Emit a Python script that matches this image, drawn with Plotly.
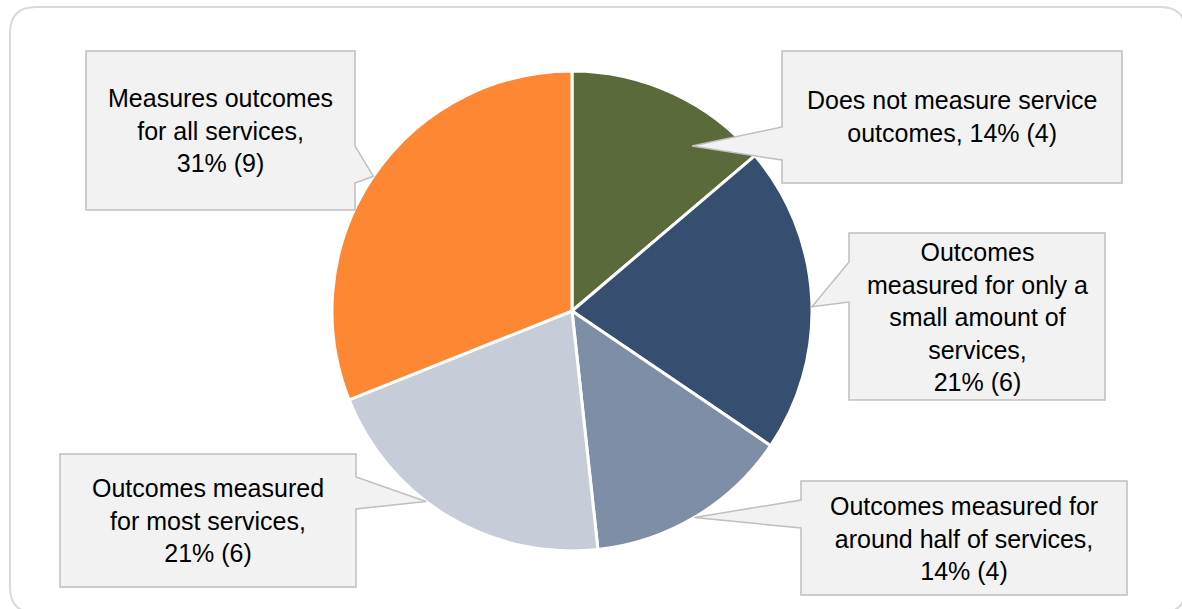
import math
import plotly.graph_objects as go

# ---- data -------------------------------------------------------------
categories = [
    "Does not measure service<br>outcomes",
    "Outcomes<br>measured for only a<br>small amount of<br>services",
    "Outcomes measured for<br>around half of services",
    "Outcomes measured<br>for most services",
    "Measures outcomes<br>for all services",
]
counts = [4, 6, 4, 6, 9]
slice_colors = ["#5B6A3A", "#364E6F", "#7E8EA6", "#C6CDD9", "#FE8734"]

# ---- page geometry (pixels) -------------------------------------------
W, H = 1182, 609
CX, CY, R = 572, 311, 240


def fx(x):
    return x / W


def fy(y):
    return 1 - y / H


# callout boxes: (x0, y0, x1, y1), side of the pointer, pointer base (y0, y1),
# pointer angle nudge (deg), pointer reach as a fraction of the radius,
# and the separator placed before the percentage
callouts = [
    dict(box=(782, 51, 1122, 183), side="left", base=(127, 160), nudge=11.2, reach=0.85, sep=", "),
    dict(box=(849, 233, 1105, 400), side="left", base=(262, 302), nudge=2.1, reach=1.0, sep=",<br>"),
    dict(box=(801, 481, 1127, 595), side="left", base=(500, 528), nudge=0.4, reach=1.0, sep=",<br>"),
    dict(box=(60, 454, 356, 587), side="right", base=(477, 509), nudge=6.4, reach=1.0, sep=",<br>"),
    dict(box=(86, 51, 355, 210), side="right", base=(146, 183), nudge=0.0, reach=1.0, sep=",<br>"),
]

total = sum(counts)

fig = go.Figure(
    go.Pie(
        labels=[c.replace("<br>", " ") for c in categories],
        values=counts,
        sort=False,
        direction="clockwise",
        rotation=0,
        marker=dict(colors=slice_colors, line=dict(color="white", width=3)),
        textinfo="none",
        hoverinfo="label+value+percent",
        showlegend=False,
        domain=dict(x=[fx(CX - R), fx(CX + R)], y=[fy(CY + R), fy(CY - R)]),
    )
)

shapes = []
annotations = []

# outer frame with rounded corners
fx0, fy0, fx1, fy1, rc = 10, 7, 1186, 613, 26
frame = (
    f"M {fx(fx0 + rc)},{fy(fy0)} L {fx(fx1 - rc)},{fy(fy0)} "
    f"Q {fx(fx1)},{fy(fy0)} {fx(fx1)},{fy(fy0 + rc)} "
    f"L {fx(fx1)},{fy(fy1 - rc)} Q {fx(fx1)},{fy(fy1)} {fx(fx1 - rc)},{fy(fy1)} "
    f"L {fx(fx0 + rc)},{fy(fy1)} Q {fx(fx0)},{fy(fy1)} {fx(fx0)},{fy(fy1 - rc)} "
    f"L {fx(fx0)},{fy(fy0 + rc)} Q {fx(fx0)},{fy(fy0)} {fx(fx0 + rc)},{fy(fy0)} Z"
)
shapes.append(dict(type="path", xref="paper", yref="paper", path=frame,
                   line=dict(color="#D9D9D9", width=2), fillcolor="rgba(0,0,0,0)"))

# callout boxes with a pointer aimed at each slice
cum = 0
for name, n, co in zip(categories, counts, callouts):
    mid = (cum + n / 2) / total * 360.0
    cum += n
    ang = math.radians(mid + co["nudge"])
    tx = CX + co["reach"] * R * math.sin(ang)
    ty = CY - co["reach"] * R * math.cos(ang)

    x0, y0, x1, y1 = co["box"]
    b0, b1 = co["base"]
    if co["side"] == "right":
        pts = [(x0, y0), (x1, y0), (x1, b0), (tx, ty), (x1, b1), (x1, y1), (x0, y1)]
    else:
        pts = [(x0, y0), (x1, y0), (x1, y1), (x0, y1), (x0, b1), (tx, ty), (x0, b0)]
    path = "M " + " L ".join(f"{fx(px)},{fy(py)}" for px, py in pts) + " Z"
    shapes.append(dict(type="path", xref="paper", yref="paper", path=path,
                       line=dict(color="#BFBFBF", width=1.5), fillcolor="#F2F2F2"))

    pct = round(n / total * 100)
    annotations.append(dict(
        xref="paper", yref="paper",
        x=fx((x0 + x1) / 2), y=fy((y0 + y1) / 2),
        xanchor="center", yanchor="middle",
        text=f"{name}{co['sep']}{pct}% ({n})",
        showarrow=False, align="center",
        font=dict(family="Liberation Sans, Arial, sans-serif", size=25, color="#000000"),
    ))

fig.update_layout(
    width=W, height=H,
    margin=dict(l=0, r=0, t=0, b=0),
    paper_bgcolor="white", plot_bgcolor="white",
    shapes=shapes, annotations=annotations,
)

fig.write_html("out.html")
